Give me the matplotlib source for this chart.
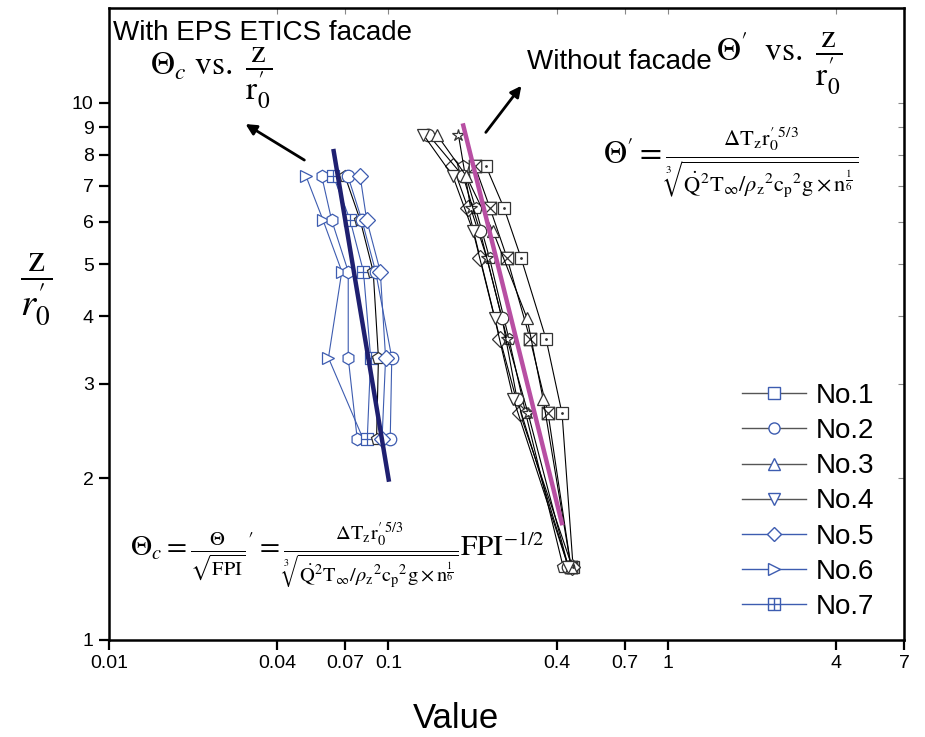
import numpy as np
import matplotlib
matplotlib.use("Agg")
import matplotlib.pyplot as plt
from matplotlib.lines import Line2D
from matplotlib.path import Path

plt.rcParams['font.family'] = ['Liberation Sans', 'DejaVu Sans']
plt.rcParams['mathtext.fontset'] = 'stix'

BLUE = "#3d5cb0"
GREY = "#555555"

# --- with EPS ETICS facade: Theta_c vs z/r0' ---
z_fac = [7.3, 6.05, 4.85, 3.35, 2.37]
fac_tri_r = [0.0507, 0.0583, 0.0681, 0.0610, 0.0811]
fac_hex = [0.0577, 0.0626, 0.0718, 0.0718, 0.0773]
fac_sqplus = [0.0635, 0.0729, 0.0814, 0.0864, 0.0840]
fac_pent = [0.0699, 0.0792, 0.0882, 0.0921, 0.0907]
fac_circ = [0.0716, 0.0803, 0.0900, 0.1028, 0.1015]
fac_diam = [0.0792, 0.0836, 0.0935, 0.0977, 0.0949]

# --- without facade: Theta' vs z/r0' ---
z_a = [7.61, 6.36, 5.14, 3.63, 2.64, 1.37]
z_b = [8.72, 7.3, 5.76, 3.97, 2.81, 1.37]
z_star = [8.72, 6.36, 5.14, 3.63, 2.64, 1.37]
free_sqdot = [0.2236, 0.2593, 0.2983, 0.3666, 0.4182, 0.4579]
free_sqx = [0.2042, 0.2310, 0.2658, 0.3213, 0.3727, 0.4500]
free_diam = [0.1703, 0.1927, 0.2128, 0.2508, 0.2958, 0.4541]
free_pent = [0.1850, 0.2050, 0.2300, 0.2700, 0.3100, 0.4217]
free_star = [0.1780, 0.1970, 0.2250, 0.2660, 0.3160, 0.4400]
free_circ = [0.1389, 0.1849, 0.2128, 0.2550, 0.2886, 0.4400]
free_tri_u = [0.1489, 0.1900, 0.2368, 0.3134, 0.3576, 0.4500]
free_tri_d = [0.1333, 0.1700, 0.2009, 0.2400, 0.2800, 0.4400]

# fitted lines (end points)
fit_fac_x = [0.0635, 0.1005]
fit_fac_z = [8.2, 1.97]
fit_free_x = [0.1845, 0.4193]
fit_free_z = [9.15, 1.635]

xticks = [0.01, 0.04, 0.07, 0.1, 0.4, 0.7, 1, 4, 7]
xticklabels = ["0.01", "0.04", "0.07", "0.1", "0.4", "0.7", "1", "4", "7"]
yticks = [1, 2, 3, 4, 5, 6, 7, 8, 9, 10]
legend_labels = ["No.1", "No.2", "No.3", "No.4", "No.5", "No.6", "No.7"]

# square-with-plus and square-with-x markers
M, L, C = Path.MOVETO, Path.LINETO, Path.CLOSEPOLY
sq_plus = Path([(-1, -1), (1, -1), (1, 1), (-1, 1), (-1, -1), (0, -1), (0, 1), (-1, 0), (1, 0)],
               [M, L, L, L, C, M, L, M, L])
sq_x = Path([(-1, -1), (1, -1), (1, 1), (-1, 1), (-1, -1), (-1, -1), (1, 1), (-1, 1), (1, -1)],
            [M, L, L, L, C, M, L, M, L])

fig = plt.figure(figsize=(9.25, 7.37), dpi=100)
ax = fig.add_axes([109/925, 1-640/737, (904-109)/925, (640-8)/737])
ax.set_xscale("log"); ax.set_yscale("log")
ax.set_xlim(0.01, 7); ax.set_ylim(1, 15)

mk = dict(mfc="white", ms=9, mew=0.9)
fac_series = [(fac_tri_r, ">", BLUE), (fac_hex, "h", BLUE), (fac_sqplus, sq_plus, BLUE),
              (fac_pent, "p", "k"), (fac_circ, "o", BLUE), (fac_diam, "D", BLUE)]
for xs, m, lc in fac_series:
    ax.plot(xs, z_fac, "-", color=lc, lw=0.8, marker=m, mec=BLUE if lc == BLUE else "#333333",
            **{**mk, "ms": 8 if m == "D" else 9})

free_series = [(free_sqdot, z_a, "s"), (free_sqx, z_a, sq_x), (free_diam, z_a, "D"),
               (free_pent, z_a, "p"), (free_star, z_star, "*"), (free_circ, z_b, "o"),
               (free_tri_u, z_b, "^"), (free_tri_d, z_b, "v")]
for xs, zs, m in free_series:
    ax.plot(xs, zs, "-", color="k", lw=0.8, marker=m, mec="#333333", **{**mk, "ms": 8 if m == "D" else 9})
ax.plot(free_sqdot, z_a, ".", color="#333333", ms=2)

ax.plot(fit_fac_x, fit_fac_z, color="#1f2070", lw=3.2, solid_capstyle="butt")
ax.plot(fit_free_x, fit_free_z, color="#b84fa3", lw=3.2, solid_capstyle="butt")

ax.annotate("", xy=(0.0302, 9.18), xytext=(0.0510, 7.77),
            arrowprops=dict(arrowstyle="-|>", lw=2, color="k", mutation_scale=16))
ax.annotate("", xy=(0.3033, 10.85), xytext=(0.2200, 8.72),
            arrowprops=dict(arrowstyle="-|>", lw=2, color="k", mutation_scale=16))

ax.set_xticks(xticks); ax.set_xticklabels(xticklabels)
ax.set_yticks(yticks); ax.set_yticklabels([str(v) for v in yticks])
ax.minorticks_off()
ax.tick_params(direction="out", length=7, width=1.6, labelsize=14, pad=4, colors="k")
for s in ax.spines.values():
    s.set_linewidth(1.8)
sx = ax.secondary_xaxis("top"); sx.set_xticks(xticks); sx.set_xticklabels([])
sx.tick_params(direction="in", length=4, width=0.8, color="#888888")
sy = ax.secondary_yaxis("right"); sy.set_yticks(yticks); sy.set_yticklabels([])
sy.tick_params(direction="in", length=4, width=0.8, color="#888888")
sx.minorticks_off(); sy.minorticks_off()

# legend
handles = []
for i, m in enumerate(["s", "o", "^", "v", "D", ">", sq_plus]):
    handles.append(Line2D([], [], color=GREY if i < 4 else BLUE, lw=1.0, marker=m, mec=BLUE,
                          mfc="white", ms=7 if m == "D" else 8, mew=1.0))
ax.legend(handles, legend_labels, loc="upper left", bbox_to_anchor=(717/925, 1-358/737),
          bbox_transform=fig.transFigure, frameon=False, fontsize=20, handlelength=2.3,
          labelspacing=0.33, handletextpad=0.35)

# annotations
fig.text(113/925, 1-33/737, "With EPS ETICS facade", fontsize=20, ha="left", va="center")
fig.text(150/925, 1-78/737, r"$\Theta_c\ \mathrm{vs.}\ \dfrac{\mathrm{z}}{\mathrm{r}^{\prime}_{0}}$",
         fontsize=24, ha="left", va="center")
fig.text(527/925, 1-62/737, "Without facade", fontsize=20, ha="left", va="center")
fig.text(716/925, 1-64/737, r"$\Theta^{\prime}\ \ \mathrm{vs.}\ \dfrac{\mathrm{z}}{\mathrm{r}^{\prime}_{0}}$",
         fontsize=24, ha="left", va="center")
fig.text(603/925, 1-162/737,
         r"$\Theta^{\prime} = \frac{\Delta \mathrm{T_z r}_0^{\prime\ 5/3}}"
         r"{\sqrt[3]{\dot{\mathrm{Q}}^2\mathrm{T}_\infty/\rho_\mathrm{z}{}^2\mathrm{c_p}{}^2\mathrm{g}\times\mathrm{n}^{\frac{1}{6}}}}$",
         fontsize=23, ha="left", va="center")
fig.text(130/925, 1-556/737,
         r"$\Theta_c = \frac{\Theta}{\sqrt{\mathrm{FPI}}}{}^{\prime} = \frac{\Delta \mathrm{T_z r}_0^{\prime\ 5/3}}"
         r"{\sqrt[3]{\dot{\mathrm{Q}}^2\mathrm{T}_\infty/\rho_\mathrm{z}{}^2\mathrm{c_p}{}^2\mathrm{g}\times\mathrm{n}^{\frac{1}{6}}}}"
         r"\mathrm{FPI}^{-1/2}$",
         fontsize=21, ha="left", va="center")
fig.text(36/925, 1-290/737, r"$\dfrac{\mathrm{z}}{r_0^{\prime}}$", fontsize=28, ha="center", va="center")
fig.text(456/925, 1-718/737, "Value", fontsize=25, ha="center", va="center")

fig.savefig("out.png", dpi=100)
